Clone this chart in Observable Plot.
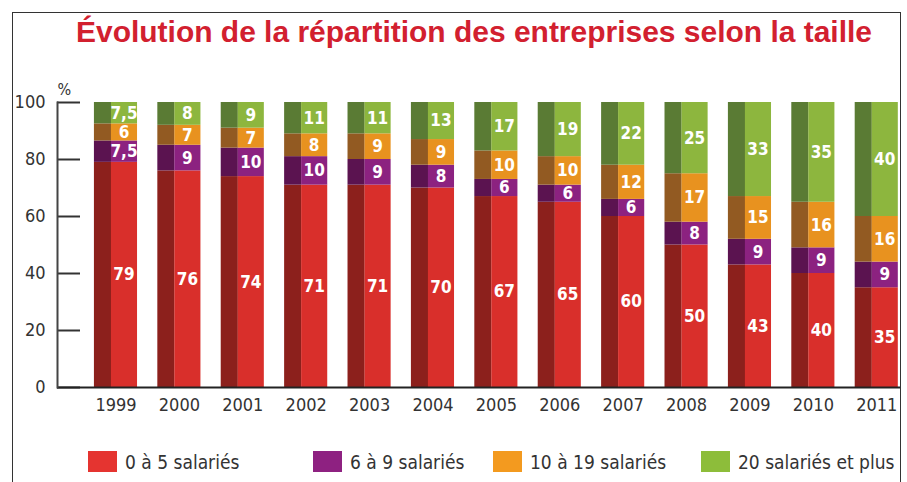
<!DOCTYPE html>
<html>
<head>
<meta charset="utf-8">
<script src="https://cdn.jsdelivr.net/npm/d3@7"></script>
<script src="https://cdn.jsdelivr.net/npm/@observablehq/plot@0.6"></script>
<style>
  html, body { margin: 0; padding: 0; background: #fff; }
  #wrap { position: relative; width: 907px; height: 482px; overflow: hidden; background: #fff;
    font-family: "Liberation Sans Narrow", "DejaVu Sans Condensed", "Roboto Condensed", sans-serif; }
  #border { position: absolute; left: 12px; top: 12px; width: 889px; height: 500px;
    border: 1.5px solid #333; box-sizing: border-box; }
  #title { position: absolute; left: 0; top: 0; }
  #chart { position: absolute; left: 0; top: 0; }
  .leg { position: absolute; top: 451px; display: flex; align-items: center; height: 21px;
    font-size: 19px; color: #333; white-space: nowrap; }
  .leg .sw { width: 29px; height: 21px; margin-right: 8px; }
</style>
</head>
<body>
<div id="wrap">
  <div id="border"></div>
  <svg id="title" width="907" height="60"></svg>
  <div id="chart"></div>
</div>
<script>
const years = ["1999","2000","2001","2002","2003","2004","2005","2006","2007","2008","2009","2010","2011"];
const groups = ["0 à 5 salariés","6 à 9 salariés","10 à 19 salariés","20 salariés et plus"];
const v0to5   = [79,76,74,71,71,70,67,65,60,50,43,40,35];
const v6to9   = [7.5,9,10,10,9,8,6,6,6,8,9,9,9];
const v10to19 = [6,7,7,8,9,9,10,10,12,17,15,16,16];
const v20plus = [7.5,8,9,11,11,13,17,19,22,25,33,35,40];
const yTicks = [0,20,40,60,80,100];
const titleText = "Évolution de la répartition des entreprises selon la taille";

const lightColors  = ["#d92f2b","#8c2280","#e8921f","#8db63e"];
const darkColors   = ["#8c201c","#5b1350","#925a22","#5a7b34"];
const legendColors = ["#e53430","#8e2181","#f39a1f","#8dbd3a"];
const legendLeft   = [88, 313, 493, 701];

const series = [v0to5, v6to9, v10to19, v20plus];
const data = [];
years.forEach((yr, i) => {
  series.forEach((s, g) => data.push({year: yr, group: groups[g], gi: g, value: s[i]}));
});
const fmt = v => String(v).replace(".", ",");

// title
const tsvg = d3.select("#title");
tsvg.append("text")
  .attr("x", 76).attr("y", 42)
  .attr("textLength", 796).attr("lengthAdjust", "spacingAndGlyphs")
  .attr("fill", "#d2202f")
  .attr("font-family", "'Liberation Sans', Arial, sans-serif")
  .attr("font-weight", "bold")
  .attr("font-size", 29)
  .text(titleText);

const chart = Plot.plot({
  width: 907, height: 430,
  marginLeft: 57, marginRight: 7, marginTop: 102, marginBottom: 43,
  style: {fontFamily: "'Liberation Sans Narrow', 'DejaVu Sans Condensed', sans-serif", fontSize: "18px", color: "#333", background: "transparent"},
  x: {domain: years, paddingInner: 0.32, paddingOuter: 0.3085, align: 0.944, round: false, label: null},
  y: {domain: [0, 100], label: null},
  color: {type: "identity"},
  marks: [
    Plot.barY(data, {x: "year", y: "value", z: "group", fill: d => darkColors[d.gi], insetRight: 26}),
    Plot.barY(data, {x: "year", y: "value", z: "group", fill: d => lightColors[d.gi], insetLeft: 17}),
    Plot.text(data, Plot.stackY({x: "year", y: "value", z: "group", text: d => fmt(d.value),
      fill: "white", dx: 8, fontSize: 17, fontWeight: "bold"})),
    Plot.ruleY(yTicks, {y: d => d, insetRight: 820, stroke: "#333", strokeWidth: 2}),
    Plot.ruleY([0], {stroke: "#222", strokeWidth: 2}),
    Plot.frame({anchor: "left", stroke: "#444", strokeWidth: 2}),
    Plot.axisY(yTicks, {tickSize: 0, tickPadding: 12, fontSize: 18}),
    Plot.axisX({tickSize: 0, tickPadding: 11, fontSize: 18}),
    Plot.text(["%"], {frameAnchor: "top-left", dy: -19, fontSize: 16})
  ]
});
document.getElementById("chart").appendChild(chart);

const wrap = document.getElementById("wrap");
groups.forEach((g, i) => {
  const item = document.createElement("div");
  item.className = "leg";
  item.style.left = legendLeft[i] + "px";
  const sw = document.createElement("div");
  sw.className = "sw";
  sw.style.background = legendColors[i];
  const lab = document.createElement("span");
  lab.textContent = g;
  item.appendChild(sw);
  item.appendChild(lab);
  wrap.appendChild(item);
});
</script>
</body>
</html>
